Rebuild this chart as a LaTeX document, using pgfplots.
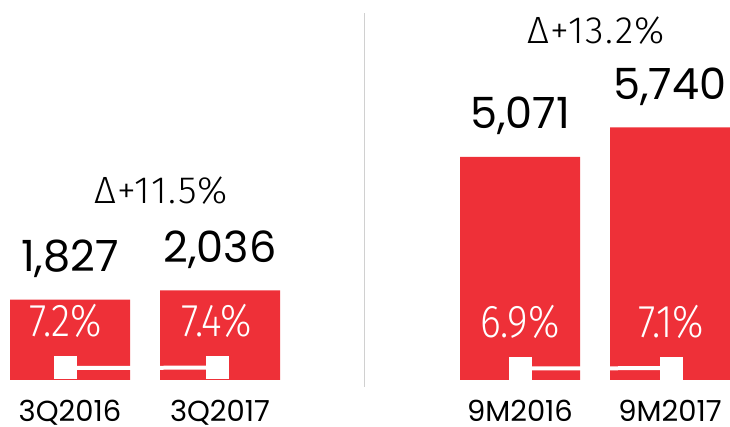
\documentclass[border=0pt]{standalone}
\usepackage{fontspec}
\setmainfont{Poppins}
\newfontfamily\pctfont[FakeStretch=0.86]{Fira Sans Light}
\newfontfamily\deltafont[LetterSpace=4]{Fira Sans Light}
\usepackage{pgfplots}
\pgfplotsset{compat=1.18}
\definecolor{barred}{HTML}{EE3038}
\definecolor{divgray}{HTML}{D0D0D0}

\begin{document}
\begin{tikzpicture}
% bars, values and category labels
\begin{axis}[
    name=main,
    scale only axis, width=730pt, height=380pt,
    xmin=-0.46667, xmax=4.4, ymin=0, ymax=8636,
    axis line style={draw=none}, major tick length=0pt,
    ytick=\empty,
    xtick={0,1,3,4}, xticklabels={3Q2016,3Q2017,9M2016,9M2017},
    xticklabel style={font=\fontsize{29}{30}\selectfont, anchor=base, yshift=-42pt},
    clip=false,
    ybar, bar width=0.8, bar shift=0pt,
    nodes near coords,
    every node near coord/.append style={font=\fontsize{43}{43}\selectfont, anchor=base, yshift=28pt},
    /pgf/number format/1000 sep={,},
    /pgf/number format/assume math mode=true,
]
\addplot[fill=barred, draw=none] coordinates {(0,1827) (1,2036) (3,5071) (4,5740)};
\node[font=\deltafont\fontsize{38}{38}\selectfont, anchor=base] at (axis cs:0.607,4000) {Δ+11.5\%};
\node[font=\deltafont\fontsize{38}{38}\selectfont, anchor=base] at (axis cs:3.51,7636) {Δ+13.2\%};
\draw[divgray, line width=1pt] (axis cs:1.96,-159) -- (axis cs:1.96,8341);
\end{axis}
% margin line with percentages
\begin{axis}[
    scale only axis, width=730pt, height=380pt,
    xmin=-0.46667, xmax=4.4, ymin=0, ymax=228,
    hide axis, clip=false,
    nodes near coords, point meta=explicit symbolic,
    every node near coord/.append style={font=\pctfont\fontsize{46}{46}\selectfont, text=white, anchor=base, yshift=31pt},
]
\addplot[white, line width=4pt, mark=square*, mark size=9.5pt, mark options={fill=white, draw=none}]
    coordinates {(-0.03,7.2)[7.2\%] (0.98,7.4)[7.4\%]};
\addplot[white, line width=4pt, mark=square*, mark size=9.5pt, mark options={fill=white, draw=none}]
    coordinates {(3,6.9)[6.9\%] (4.01,7.1)[7.1\%]};
\end{axis}
\pgfresetboundingbox
\path (main.south west) ++(0,-47pt) rectangle (main.north east);
\end{tikzpicture}
\end{document}
